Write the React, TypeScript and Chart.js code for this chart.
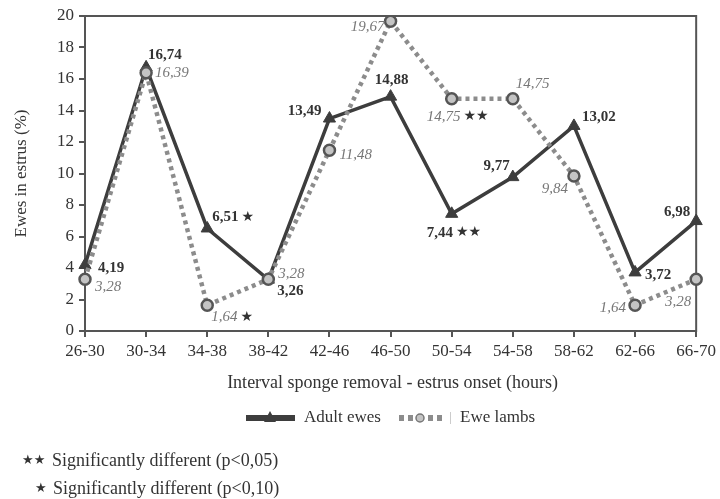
import React, { useEffect, useRef } from "react";
import { Chart, registerables } from "chart.js";

Chart.register(...registerables);

const categories = ["26-30", "30-34", "34-38", "38-42", "42-46", "46-50", "50-54", "54-58", "58-62", "62-66", "66-70"];
const adultEwes = [4.19, 16.74, 6.51, 3.26, 13.49, 14.88, 7.44, 9.77, 13.02, 3.72, 6.98];
const eweLambs = [3.28, 16.39, 1.64, 3.28, 11.48, 19.67, 14.75, 14.75, 9.84, 1.64, 3.28];
const adultSig = ["", "", "★", "", "", "", "★★", "", "", "", ""];
const lambSig = ["", "", "★", "", "", "", "★★", "", "", "", ""];
const yTicks = [0, 2, 4, 6, 8, 10, 12, 14, 16, 18, 20];

const SERIF = "'Liberation Serif', 'DejaVu Serif', serif";

// label placement: [align, dx, dy]
const adultLabelPos: [CanvasTextAlign, number, number][] = [
  ["left", 13, 3], ["left", 2, -12], ["left", 5, -11], ["left", 9, 11], ["right", -8, -7],
  ["center", 1, -17], ["left", -25, 19], ["right", -3, -11], ["left", 8, -9], ["left", 10, 3], ["right", -6, -9],
];
const lambLabelPos: [CanvasTextAlign, number, number][] = [
  ["left", 10, 8], ["left", 9, 0], ["left", 4, 12], ["left", 10, -5], ["left", 10, 5],
  ["right", -6, 6], ["left", -25, 18], ["left", 3, -15], ["right", -6, 13], ["right", -9, 3], ["right", -5, 23],
];

const fmt = (v: number) => v.toFixed(2).replace(".", ",");

const borderPlugin = {
  id: "boxBorder",
  beforeDatasetsDraw(chart: any) {
    const { ctx, chartArea: a } = chart;
    ctx.save();
    ctx.strokeStyle = "#555";
    ctx.lineWidth = 2;
    ctx.strokeRect(a.left, a.top, a.right - a.left, a.bottom - a.top);
    ctx.restore();
  },
};

const labelPlugin = {
  id: "pointLabels",
  afterDatasetsDraw(chart: any) {
    const { ctx } = chart;
    ctx.save();
    ctx.textBaseline = "middle";
    const draw = (dsIndex: number, values: number[], sig: string[], pos: [CanvasTextAlign, number, number][], font: string, color: string) => {
      const meta = chart.getDatasetMeta(dsIndex);
      meta.data.forEach((pt: any, i: number) => {
        const [align, dx, dy] = pos[i];
        ctx.font = font;
        ctx.fillStyle = color;
        const txt = fmt(values[i]);
        const s = sig[i];
        const tw = ctx.measureText(txt).width;
        const starFont = "14px 'DejaVu Sans', sans-serif";
        ctx.font = starFont;
        const sw = s ? ctx.measureText(s).width + 3 : 0;
        const total = tw + sw;
        let x0 = pt.x + dx;
        if (align === "right") x0 -= total;
        else if (align === "center") x0 -= total / 2;
        ctx.textAlign = "left";
        ctx.font = font;
        ctx.fillText(txt, x0, pt.y + dy);
        if (s) {
          ctx.font = starFont;
          ctx.fillStyle = "#333";
          ctx.fillText(s, x0 + tw + 3, pt.y + dy);
        }
      });
    };
    draw(0, adultEwes, adultSig, adultLabelPos, `bold 15px ${SERIF}`, "#333");
    draw(1, eweLambs, lambSig, lambLabelPos, `italic 15px ${SERIF}`, "#777");
    ctx.restore();
  },
};

const textPlugin = {
  id: "extraText",
  afterDraw(chart: any) {
    const { ctx, chartArea: a } = chart;
    ctx.save();
    ctx.fillStyle = "#333";
    ctx.font = `17px ${SERIF}`;
    ctx.textBaseline = "middle";
    // y title
    ctx.save();
    ctx.translate(22, (a.top + a.bottom) / 2);
    ctx.rotate(-Math.PI / 2);
    ctx.textAlign = "center";
    ctx.fillText("Ewes in estrus (%)", 0, 0);
    ctx.restore();
    // x title
    ctx.font = `18px ${SERIF}`;
    ctx.textAlign = "center";
    ctx.fillText("Interval sponge removal - estrus onset (hours)", (a.left + a.right) / 2 + 2, 383);
    // legend
    ctx.font = `17px ${SERIF}`;
    const ly = 418;
    ctx.fillStyle = "#3d3d3d";
    ctx.fillRect(246, ly - 3, 49, 6);
    ctx.beginPath();
    ctx.moveTo(270, ly - 7);
    ctx.lineTo(276, ly + 4);
    ctx.lineTo(264, ly + 4);
    ctx.closePath();
    ctx.fill();
    ctx.textAlign = "left";
    ctx.fillStyle = "#333";
    ctx.fillText("Adult ewes", 304, ly);
    ctx.fillStyle = "#8c8c8c";
    [399, 408, 428, 437].forEach((x) => ctx.fillRect(x, ly - 3, 5, 6));
    ctx.beginPath();
    ctx.arc(420, ly, 4, 0, Math.PI * 2);
    ctx.fillStyle = "#c4c4c4";
    ctx.fill();
    ctx.strokeStyle = "#777";
    ctx.lineWidth = 1.5;
    ctx.stroke();
    ctx.fillStyle = "#ccc";
    ctx.fillRect(450, ly - 6, 1, 12);
    ctx.fillStyle = "#333";
    ctx.fillText("Ewe lambs", 460, ly);
    // footnotes
    ctx.font = "13px 'DejaVu Sans', sans-serif";
    ctx.fillText("★★", 22, 461);
    ctx.fillText("★", 35, 489);
    ctx.font = `18px ${SERIF}`;
    ctx.fillText("Significantly different (p<0,05)", 52, 461);
    ctx.fillText("Significantly different (p<0,10)", 53, 489);
    ctx.restore();
  },
};

export default function App() {
  const ref = useRef<HTMLCanvasElement>(null);
  useEffect(() => {
    if (!ref.current) return;
    const chart = new Chart(ref.current, {
      type: "line",
      data: {
        labels: categories,
        datasets: [
          {
            label: "Adult ewes",
            data: adultEwes,
            borderColor: "#3d3d3d",
            borderWidth: 3.5,
            pointStyle: "triangle",
            pointRadius: 7,
            pointBackgroundColor: "#3d3d3d",
            pointBorderColor: "#3d3d3d",
            pointBorderWidth: 1,
            tension: 0,
            order: 2,
          },
          {
            label: "Ewe lambs",
            data: eweLambs,
            borderColor: "#8c8c8c",
            borderWidth: 4.5,
            borderDash: [4, 4],
            pointStyle: "circle",
            pointRadius: 5.5,
            pointBackgroundColor: "#c4c4c4",
            pointBorderColor: "#555",
            pointBorderWidth: 2.5,
            tension: 0,
            order: 1,
          },
        ],
      },
      options: {
        animation: false,
        responsive: false,
        maintainAspectRatio: false,
        layout: { padding: { top: 16, right: 21, left: 0, bottom: 0 } },
        plugins: { legend: { display: false }, tooltip: { enabled: false } },
        scales: {
          x: {
            offset: false,
            grid: { display: true, drawOnChartArea: false, tickLength: 6, color: "#555", lineWidth: 2 },
            border: { display: false },
            ticks: { color: "#333", font: { family: SERIF, size: 17 }, padding: 4, maxRotation: 0, autoSkip: false },
            afterFit: (s: any) => { s.height = 168; },
          },
          y: {
            min: 0,
            max: 20,
            afterBuildTicks: (s: any) => { s.ticks = yTicks.map((v) => ({ value: v })); },
            grid: { display: true, drawOnChartArea: false, tickLength: 6, color: "#555", lineWidth: 2 },
            border: { display: false },
            ticks: { color: "#333", font: { family: SERIF, size: 17 }, padding: 5 },
            afterFit: (s: any) => { s.width = 85; },
          },
        },
      },
      plugins: [borderPlugin, labelPlugin, textPlugin],
    });
    return () => chart.destroy();
  }, []);
  return (
    <div style={{ position: "absolute", left: 0, top: 0, width: 720, height: 499, background: "#fff" }}>
      <canvas ref={ref} width={720} height={499} style={{ width: 720, height: 499 }} />
    </div>
  );
}
